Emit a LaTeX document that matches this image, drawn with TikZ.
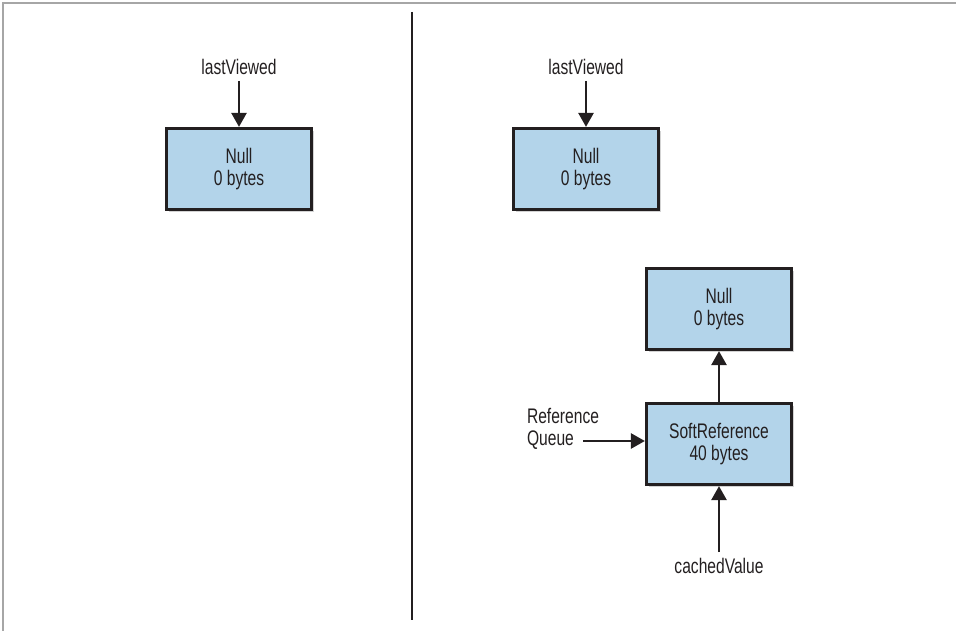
\documentclass[tikz,border=0pt]{standalone}
\usepackage{fontspec}
\setmainfont{Liberation Sans}[FakeStretch=0.74]
\usetikzlibrary{positioning,shadows,arrows.meta}
\definecolor{boxblue}{RGB}{179,212,234}
\definecolor{inkgray}{RGB}{35,31,32}

\begin{document}
\begin{tikzpicture}[x=0.02cm,y=-0.02cm,>={Triangle[width=8.5pt,length=8pt]},
  font=\fontsize{12}{12.3}\selectfont, text=inkgray,
  objbox/.style={draw=inkgray,line width=1.8pt,fill=boxblue,align=center,
    minimum width=2.9cm,minimum height=1.62cm,
    drop shadow={shadow xshift=1.5pt,shadow yshift=-1.5pt,opacity=0.35}},
  ptr/.style={->,line width=1.6pt,draw=inkgray}]
\useasboundingbox (0,0) rectangle (956,631);
% frame and divider
\draw[gray!70,line width=0.6pt] (3,631) -- (3,3) -- (956,3);
\draw[inkgray,line width=1.3pt] (412,12) -- (412,620);

% left: before
\node[objbox] (nullA) at (239,169) {Null\\0 bytes};
\node (viewA) at (239,67) {lastViewed};
\draw[ptr] (viewA) -- (nullA);

% right: after
\node[objbox] (nullB) at (586,169) {Null\\0 bytes};
\node (viewB) at (586,67) {lastViewed};
\draw[ptr] (viewB) -- (nullB);

\node[objbox] (nullC) at (719,309) {Null\\0 bytes};
\node[objbox] (softref) at (719,444) {SoftReference\\40 bytes};
\node (cached) at (719,566) {cachedValue};
\node[align=left] (queue) at (563,429) {Reference\\Queue};
\coordinate (qstart) at (583,441);
\draw[ptr] (softref) -- (nullC);
\draw[ptr] (cached) -- (softref);
\draw[ptr] (qstart) -- (qstart -| softref.west);

\end{tikzpicture}
\end{document}
